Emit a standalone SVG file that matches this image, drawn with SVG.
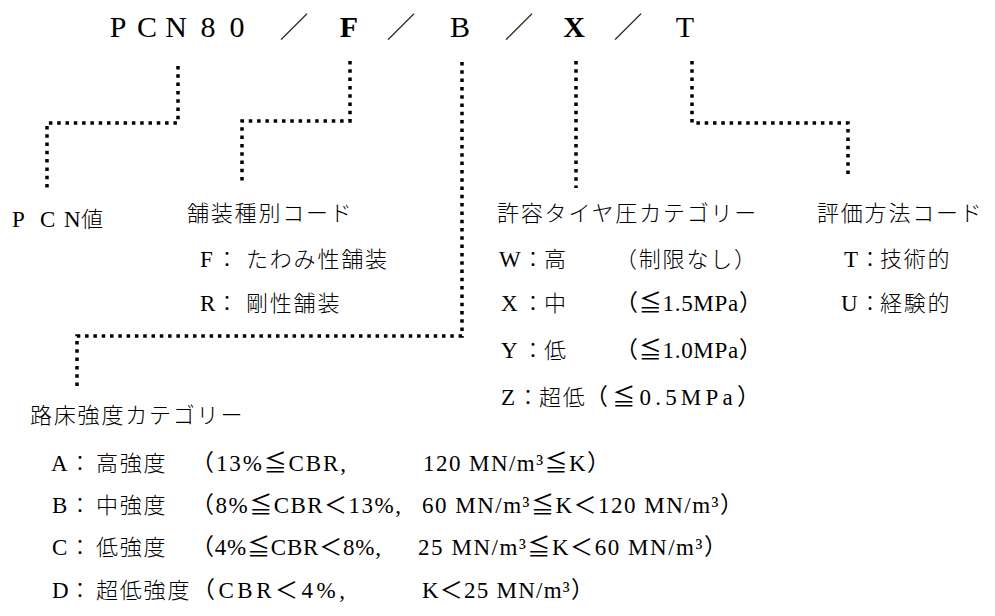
<svg xmlns="http://www.w3.org/2000/svg" width="995" height="616" viewBox="0 0 995 616">
<defs>
<style>
.j{font-family:"Noto Sans CJK JP","Noto Sans CJK SC",sans-serif;font-size:22px;letter-spacing:1.8px;fill:#000;font-weight:300}
.jc{font-family:"Noto Sans CJK JP","Noto Sans CJK SC",sans-serif;font-size:22px;letter-spacing:0;fill:#000;font-weight:300}
.l{font-family:"Liberation Serif","Noto Sans CJK JP",serif;font-size:23px;letter-spacing:0;fill:#000}
.h{font-family:"Liberation Serif","Noto Sans CJK JP",serif;font-size:30px;fill:#000;text-anchor:middle}
.hb{font-weight:bold}
.hs{font-family:"Noto Sans CJK JP",sans-serif;font-size:29px;fill:#000;text-anchor:middle;font-weight:300}
.dot{fill:none;stroke:#000;stroke-width:3.5;stroke-dasharray:3.5 4.8}
</style>
</defs>
<rect width="995" height="616" fill="#fff"/>
<g id="header">
<text class="h" y="37"><tspan x="118">P</tspan><tspan x="147">C</tspan><tspan x="176">N</tspan><tspan x="208">8</tspan><tspan x="237">0</tspan></text>
<text class="hs" x="294" y="38">／</text>
<text class="h hb" x="349" y="37">F</text>
<text class="hs" x="401" y="38">／</text>
<text class="h" x="460" y="37">B</text>
<text class="hs" x="519" y="38">／</text>
<text class="h hb" x="574" y="37">X</text>
<text class="hs" x="628" y="38">／</text>
<text class="h" x="685" y="37">T</text>
</g>
<g id="connectors">
<path class="dot" d="M178,66 V123 H47 V189"/>
<path class="dot" d="M350,61 V121 H242 V185"/>
<path class="dot" d="M462,62 V336 H77 V390"/>
<path class="dot" d="M576,61 V188"/>
<path class="dot" d="M692,61 V123 H848 V179"/>
</g>
<g id="pcn-value">
<text y="227"><tspan class="l" x="12">P</tspan><tspan class="l" x="40">C</tspan><tspan class="l" x="64">N</tspan><tspan class="j" x="81">値</tspan></text>
</g>
<g id="pavement-type">
<text class="j" x="187" y="221">舗装種別コード</text>
<text y="267"><tspan class="l" x="200">F</tspan><tspan class="jc" x="216">：</tspan><tspan class="j" x="246">たわみ性舗装</tspan></text>
<text y="311"><tspan class="l" x="200">R</tspan><tspan class="jc" x="216">：</tspan><tspan class="j" x="246">剛性舗装</tspan></text>
</g>
<g id="tire-pressure">
<text class="j" x="497" y="221">許容タイヤ圧カテゴリー</text>
<text y="267"><tspan class="l" x="499">W</tspan><tspan class="jc" x="522">：</tspan><tspan class="j" x="544">高</tspan><tspan class="j" x="615">（制限なし）</tspan></text>
<text y="311"><tspan class="l" x="501">X</tspan><tspan class="jc" x="522">：</tspan><tspan class="j" x="544">中</tspan></text>
<text class="l" x="615" y="311" textLength="147" lengthAdjust="spacing">（≦1.5MPa）</text>
<text y="358"><tspan class="l" x="501">Y</tspan><tspan class="jc" x="522">：</tspan><tspan class="j" x="544">低</tspan></text>
<text class="l" x="615" y="358" textLength="147" lengthAdjust="spacing">（≦1.0MPa）</text>
<text y="405"><tspan class="l" x="501">Z</tspan><tspan class="jc" x="517">：</tspan><tspan class="j" x="539" letter-spacing="0.8">超低</tspan></text>
<text class="l" x="585" y="405" textLength="175" lengthAdjust="spacing">（≦0.5MPa）</text>
</g>
<g id="evaluation-method">
<text class="j" x="817" y="221">評価方法コード</text>
<text y="267"><tspan class="l" x="844">T</tspan><tspan class="jc" x="859">：</tspan><tspan class="j" x="880">技術的</tspan></text>
<text y="311"><tspan class="l" x="841">U</tspan><tspan class="jc" x="859">：</tspan><tspan class="j" x="880">経験的</tspan></text>
</g>
<g id="subgrade-strength">
<text class="j" x="30" y="423">路床強度カテゴリー</text>
<text y="471"><tspan class="l" x="51">A</tspan><tspan class="jc" x="69">：</tspan><tspan class="j" x="96">高強度</tspan></text>
<text class="l" x="191" y="471" textLength="155" lengthAdjust="spacing">（13%≦CBR,</text>
<text class="l" x="423" y="471" textLength="187" lengthAdjust="spacing">120 MN/m³≦K）</text>
<text y="513"><tspan class="l" x="52">B</tspan><tspan class="jc" x="69">：</tspan><tspan class="j" x="96">中強度</tspan></text>
<text class="l" x="191" y="513" textLength="210" lengthAdjust="spacing">（8%≦CBR＜13%,</text>
<text class="l" x="422" y="513" textLength="321" lengthAdjust="spacing">60 MN/m³≦K＜120 MN/m³）</text>
<text y="555"><tspan class="l" x="52">C</tspan><tspan class="jc" x="69">：</tspan><tspan class="j" x="96">低強度</tspan></text>
<text class="l" x="191" y="555" textLength="190" lengthAdjust="spacing">（4%≦CBR＜8%,</text>
<text class="l" x="418" y="555" textLength="309" lengthAdjust="spacing">25 MN/m³≦K＜60 MN/m³）</text>
<text y="598"><tspan class="l" x="52">D</tspan><tspan class="jc" x="69">：</tspan><tspan class="j" x="96">超低強度</tspan></text>
<text class="l" x="192" y="598" textLength="153" lengthAdjust="spacing">（CBR＜4%,</text>
<text class="l" x="422" y="598" textLength="172" lengthAdjust="spacing">K＜25 MN/m³）</text>
</g>
</svg>
